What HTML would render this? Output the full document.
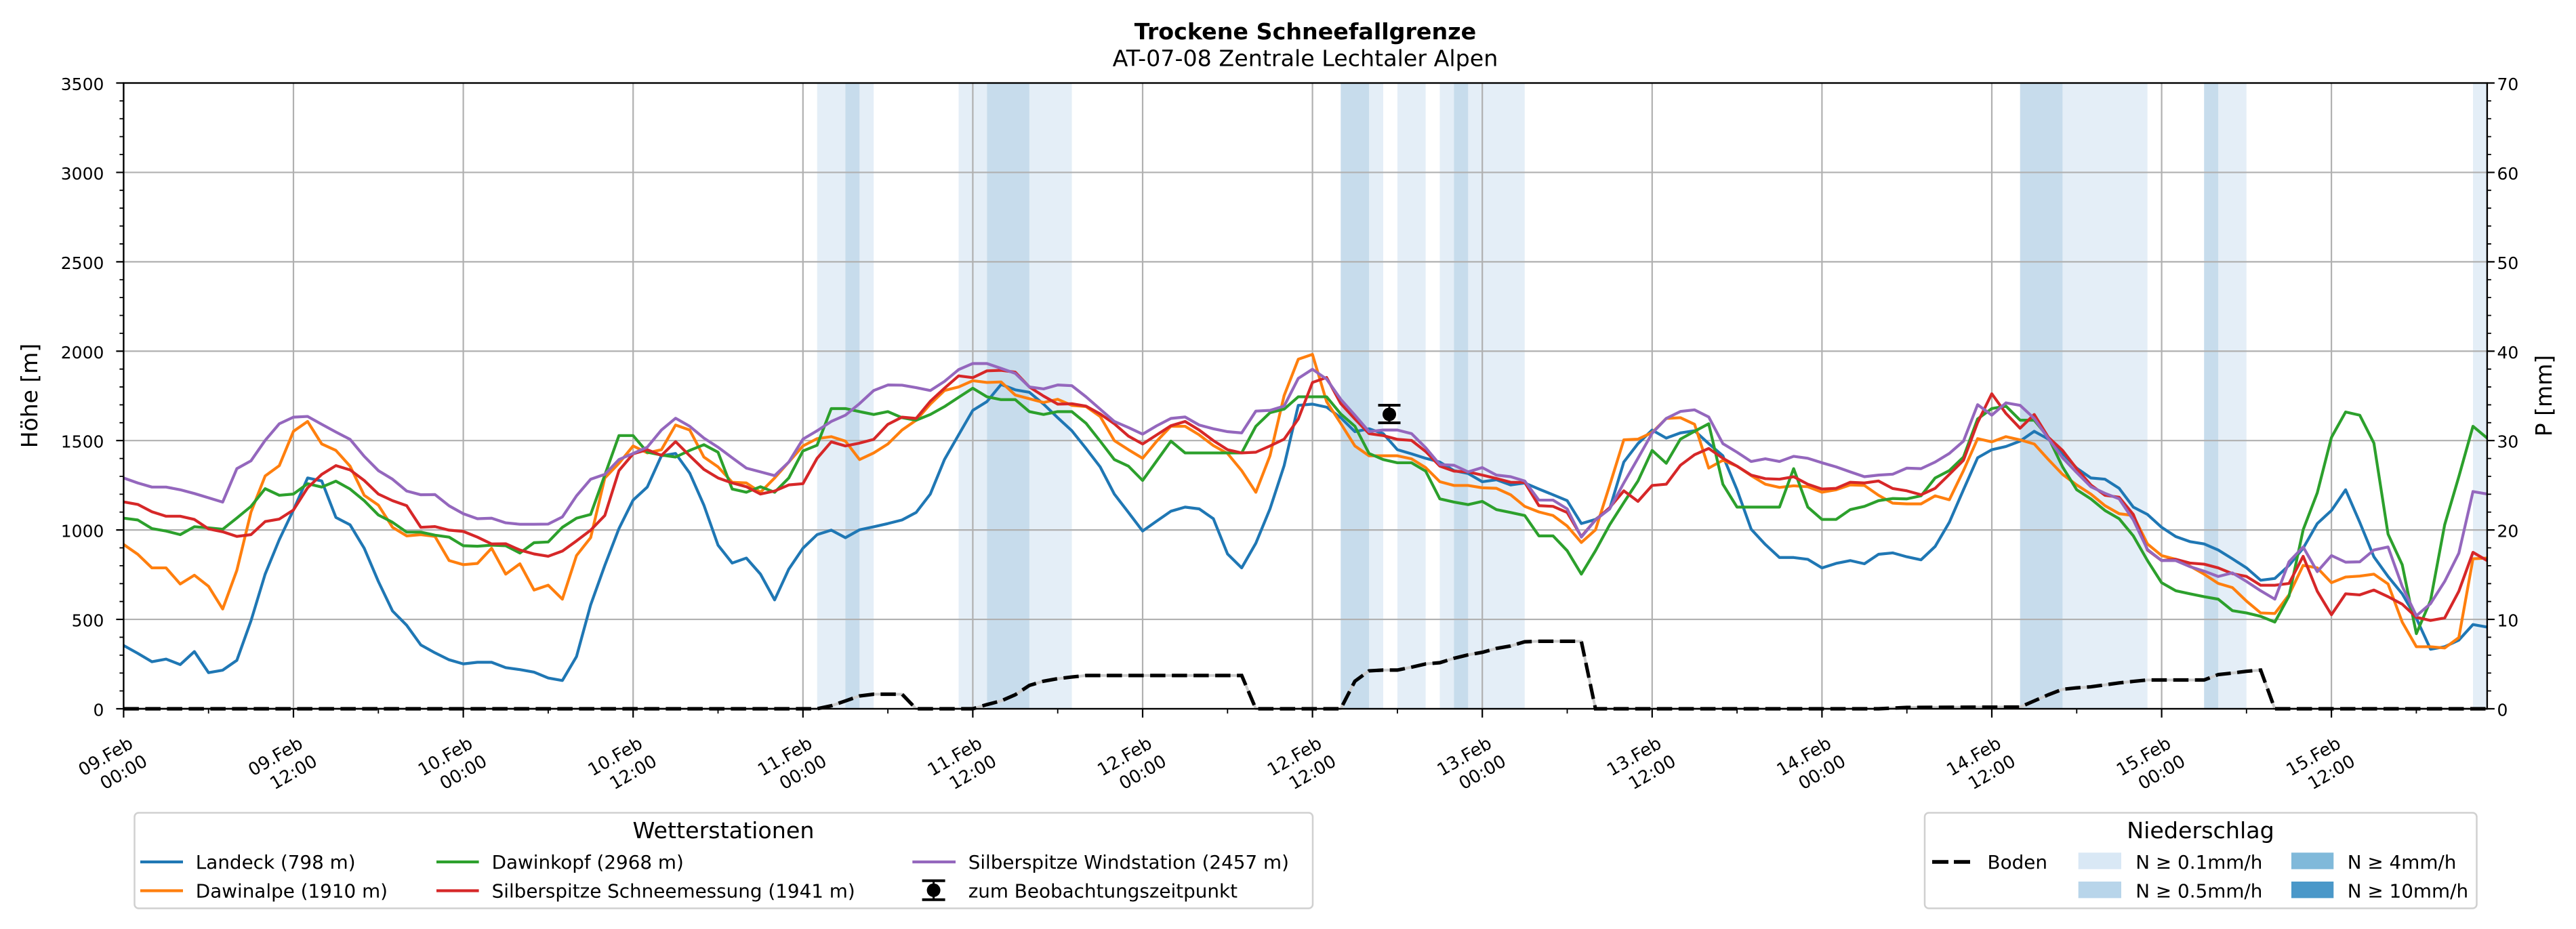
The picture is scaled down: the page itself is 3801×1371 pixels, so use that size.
<!DOCTYPE html>
<html><head><meta charset="utf-8"><style>
html,body{margin:0;padding:0;background:#fff;}
svg{display:block;}
text{font-family:"DejaVu Sans","Liberation Sans",sans-serif;fill:#000;}
</style></head><body>
<svg xmlns="http://www.w3.org/2000/svg" width="3801" height="1371" viewBox="0 0 3801 1371">
<rect x="0" y="0" width="3801" height="1371" fill="#fff"/>
<!-- titles -->
<text x="1926" y="58" text-anchor="middle" font-size="33.3" font-weight="bold">Trockene Schneefallgrenze</text>
<text x="1926" y="97.5" text-anchor="middle" font-size="33.3">AT-07-08 Zentrale Lechtaler Alpen</text>

<!-- precipitation spans -->
<g fill="#e4eef7">
<rect x="1205.7" y="122.5" width="41.7" height="923.5"/>
<rect x="1268.3" y="122.5" width="20.9" height="923.5"/>
<rect x="1414.5" y="122.5" width="41.8" height="923.5"/>
<rect x="1518.9" y="122.5" width="62.7" height="923.5"/>
<rect x="2020.1" y="122.5" width="20.9" height="923.5"/>
<rect x="2061.9" y="122.5" width="41.7" height="923.5"/>
<rect x="2124.5" y="122.5" width="20.9" height="923.5"/>
<rect x="2166.3" y="122.5" width="83.5" height="923.5"/>
<rect x="3043.4" y="122.5" width="125.3" height="923.5"/>
<rect x="3273.1" y="122.5" width="41.7" height="923.5"/>
<rect x="3649.0" y="122.5" width="20.9" height="923.5"/>
</g>
<g fill="#c7dcec">
<rect x="1247.4" y="122.5" width="20.9" height="923.5"/>
<rect x="1456.3" y="122.5" width="62.6" height="923.5"/>
<rect x="1978.3" y="122.5" width="41.8" height="923.5"/>
<rect x="2145.4" y="122.5" width="20.9" height="923.5"/>
<rect x="2980.7" y="122.5" width="62.7" height="923.5"/>
<rect x="3252.2" y="122.5" width="20.9" height="923.5"/>
</g>

<!-- grid -->
<g stroke="#b0b0b0" stroke-width="2.2" fill="none">
<path d="M433.0 122.5V1046M683.6 122.5V1046M934.2 122.5V1046M1184.8 122.5V1046M1435.4 122.5V1046M1686.0 122.5V1046M1936.6 122.5V1046M2187.2 122.5V1046M2437.8 122.5V1046M2688.4 122.5V1046M2939.0 122.5V1046M3189.6 122.5V1046M3440.1 122.5V1046"/>
<path d="M182.4 914.07H3669.9M182.4 782.14H3669.9M182.4 650.21H3669.9M182.4 518.28H3669.9M182.4 386.35H3669.9M182.4 254.42H3669.9"/>
</g>

<!-- series -->
<g transform="translate(182.4 1046) scale(20.883 -0.26386)" fill="none" stroke-width="4.2" stroke-linejoin="round" stroke-linecap="butt">
<polyline vector-effect="non-scaling-stroke" stroke="#1f77b4" points="0,354 1,310 2,263 3,278 4,247 5,320 6,202 7,216 8,271 9,492 10,753 11,946 12,1112 13,1291 14,1274 15,1070 16,1029 17,898 18,712 19,547 20,467 21,357 22,313 23,274 24,251 25,260 26,260 27,230 28,219 29,205 30,172 31,158 32,292 33,581 34,802 35,1008 36,1167 37,1240 38,1415 39,1428 40,1318 41,1139 42,915 43,815 44,843 45,753 46,609 47,781 48,898 49,974 50,999 51,957 52,1001 53,1018 54,1036 55,1056 56,1098 57,1201 58,1394 59,1532 60,1669 61,1718 62,1814 63,1784 64,1770 65,1704 66,1628 67,1555 68,1456 69,1353 70,1201 71,1098 72,994 73,1050 74,1105 75,1128 76,1118 77,1063 78,866 79,788 80,926 81,1118 82,1360 83,1697 84,1704 85,1687 86,1628 87,1550 88,1566 89,1539 90,1449 91,1426 92,1401 93,1380 94,1332 95,1316 96,1270 97,1281 98,1252 99,1263 100,1229 101,1197 102,1164 103,1036 104,1059 105,1118 106,1380 107,1483 108,1559 109,1514 110,1543 111,1555 112,1483 113,1415 114,1225 115,1004 116,919 117,846 118,846 119,836 120,788 121,813 122,829 123,811 124,864 125,872 126,850 127,833 128,908 129,1043 130,1225 131,1404 132,1449 133,1467 134,1497 135,1552 136,1508 137,1428 138,1346 139,1291 140,1284 141,1233 142,1128 143,1087 144,1015 145,963 146,935 147,922 148,888 149,839 150,788 151,719 152,729 153,802 154,898 155,1036 156,1109 157,1225 158,1043 159,850 160,740 161,643 162,506 163,333 164,347 165,384 166,471 167,457"/>
<polyline vector-effect="non-scaling-stroke" stroke="#ff7f0e" points="0,919 1,864 2,788 3,788 4,698 5,747 6,685 7,558 8,774 9,1100 10,1302 11,1360 12,1552 13,1607 14,1481 15,1445 16,1357 17,1194 18,1139 19,1015 20,967 21,974 22,964 23,829 24,806 25,813 26,898 27,753 28,811 29,664 30,691 31,613 32,857 33,957 34,1291 35,1373 36,1470 37,1431 38,1449 39,1587 40,1559 41,1408 42,1353 43,1267 44,1263 45,1211 46,1291 47,1380 48,1470 49,1511 50,1522 51,1497 52,1394 53,1431 54,1481 55,1559 56,1614 57,1704 58,1780 59,1800 60,1835 61,1825 62,1828 63,1755 64,1734 65,1713 66,1731 67,1697 68,1690 69,1635 70,1500 71,1449 72,1401 73,1497 74,1580 75,1580 76,1532 77,1472 78,1428 79,1332 80,1211 81,1415 82,1752 83,1955 84,1982 85,1718 86,1596 87,1470 88,1415 89,1415 90,1415 91,1398 92,1349 93,1270 94,1249 95,1249 96,1236 97,1233 98,1197 99,1132 100,1101 101,1081 102,1022 103,930 104,1001 105,1249 106,1504 107,1508 108,1545 109,1624 110,1628 111,1591 112,1346 113,1390 114,1357 115,1304 116,1256 117,1238 118,1247 119,1242 120,1211 121,1225 122,1252 123,1249 124,1194 125,1150 126,1146 127,1146 128,1191 129,1169 130,1332 131,1511 132,1493 133,1522 134,1504 135,1481 136,1394 137,1311 138,1252 139,1201 140,1136 141,1091 142,1081 143,922 144,857 145,836 146,798 147,753 148,701 149,678 150,602 151,536 152,533 153,637 154,802 155,788 156,705 157,737 158,742 159,753 160,698 161,485 162,347 163,347 164,340 165,398 166,839 167,843"/>
<polyline vector-effect="non-scaling-stroke" stroke="#2ca02c" points="0,1066 1,1056 2,1008 3,994 4,974 5,1018 6,1012 7,1004 8,1067 9,1132 10,1231 11,1194 12,1201 13,1259 14,1240 15,1273 16,1229 17,1164 18,1084 19,1043 20,988 21,988 22,971 23,960 24,912 25,909 26,915 27,912 28,871 29,929 30,933 31,1015 32,1066 33,1087 34,1307 35,1528 36,1528 37,1435 38,1419 39,1408 40,1445 41,1477 42,1435 43,1229 44,1211 45,1242 46,1211 47,1291 48,1442 49,1474 50,1679 51,1679 52,1662 53,1646 54,1662 55,1628 56,1614 57,1646 58,1690 59,1742 60,1793 61,1745 62,1729 63,1729 64,1662 65,1646 66,1662 67,1662 68,1597 69,1497 70,1394 71,1357 72,1277 73,1387 74,1497 75,1431 76,1431 77,1431 78,1431 79,1431 80,1580 81,1656 82,1676 83,1745 84,1745 85,1745 86,1649 87,1580 88,1428 89,1394 90,1376 91,1376 92,1329 93,1174 94,1156 95,1142 96,1160 97,1114 98,1098 99,1081 100,967 101,967 102,884 103,753 104,884 105,1029 106,1153 107,1274 108,1445 109,1373 110,1508 111,1552 112,1594 113,1256 114,1128 115,1128 116,1128 117,1128 118,1343 119,1128 120,1059 121,1059 122,1114 123,1132 124,1164 125,1176 126,1174 127,1191 128,1291 129,1332 130,1408 131,1621 132,1679 133,1693 134,1614 135,1614 136,1518 137,1353 138,1225 139,1174 140,1109 141,1063 142,967 143,829 144,705 145,660 146,643 147,627 148,613 149,549 150,536 151,517 152,485 153,630 154,1001 155,1208 156,1518 157,1660 158,1642 159,1486 160,977 161,806 162,420 163,605 164,1029 165,1298 166,1580 167,1514"/>
<polyline vector-effect="non-scaling-stroke" stroke="#d62728" points="0,1157 1,1143 2,1102 3,1077 4,1077 5,1059 6,1006 7,990 8,964 9,974 10,1047 11,1061 12,1112 13,1236 14,1311 15,1360 16,1336 17,1277 18,1201 19,1164 20,1136 21,1015 22,1019 23,999 24,992 25,960 26,922 27,923 28,888 29,866 30,853 31,882 32,939 33,999 34,1081 35,1332 36,1426 37,1449 38,1417 39,1494 40,1415 41,1339 42,1291 43,1263 44,1242 45,1201 46,1218 47,1252 48,1259 49,1401 50,1493 51,1470 52,1486 53,1507 54,1591 55,1631 56,1624 57,1720 58,1793 59,1862 60,1852 61,1890 62,1893 63,1883 64,1800 65,1749 66,1704 67,1706 68,1693 69,1649 70,1594 71,1525 72,1481 73,1532 74,1583 75,1607 76,1559 77,1500 78,1449 79,1431 80,1435 81,1470 82,1508 83,1621 84,1825 85,1853 86,1707 87,1621 88,1539 89,1528 90,1507 91,1501 92,1439 93,1357 94,1329 95,1325 96,1307 97,1288 98,1267 99,1266 100,1136 101,1132 102,1098 103,963 104,1056 105,1125 106,1219 107,1160 108,1249 109,1256 110,1362 111,1421 112,1456 113,1401 114,1357 115,1307 116,1287 117,1284 118,1298 119,1256 120,1229 121,1233 122,1267 123,1263 124,1274 125,1232 126,1219 127,1197 128,1233 129,1311 130,1390 131,1601 132,1762 133,1652 134,1569 135,1646 136,1518 137,1445 138,1343 139,1252 140,1194 141,1183 142,1087 143,888 144,829 145,836 146,815 147,809 148,788 149,756 150,740 151,691 152,691 153,701 154,853 155,657 156,526 157,643 158,637 159,664 160,627 161,585 162,512 163,494 164,508 165,657 166,875 167,829"/>
<polyline vector-effect="non-scaling-stroke" stroke="#9467bd" points="0,1291 1,1263 2,1240 3,1240 4,1225 5,1204 6,1180 7,1156 8,1343 9,1387 10,1501 11,1594 12,1631 13,1635 14,1591 15,1548 16,1507 17,1412 18,1332 19,1284 20,1218 21,1197 22,1198 23,1135 24,1091 25,1063 26,1066 27,1040 28,1032 29,1032 30,1033 31,1073 32,1191 33,1284 34,1311 35,1394 36,1428 37,1463 38,1559 39,1625 40,1580 41,1514 42,1463 43,1404 44,1346 45,1325 46,1304 47,1380 48,1508 49,1555 50,1607 51,1642 52,1707 53,1780 54,1811 55,1810 56,1796 57,1780 58,1831 59,1897 60,1931 61,1931 62,1904 63,1876 64,1800 65,1789 66,1811 67,1807 68,1745 69,1676 70,1607 71,1573 72,1536 73,1583 74,1624 75,1632 76,1587 77,1566 78,1550 79,1543 80,1665 81,1669 82,1693 83,1848 84,1899 85,1844 86,1731 87,1642 88,1550 89,1559 90,1559 91,1539 92,1460 93,1366 94,1362 95,1325 96,1349 97,1307 98,1298 99,1274 100,1167 101,1167 102,1118 103,960 104,1056 105,1118 106,1263 107,1401 108,1541 109,1624 110,1663 111,1672 112,1632 113,1483 114,1435 115,1383 116,1398 117,1383 118,1412 119,1401 120,1376 121,1353 122,1325 123,1298 124,1307 125,1312 126,1346 127,1343 128,1380 129,1428 130,1497 131,1701 132,1642 133,1711 134,1697 135,1624 136,1511 137,1404 138,1321 139,1242 140,1205 141,1174 142,1056 143,891 144,829 145,829 146,795 147,770 148,740 149,760 150,712 151,660 152,613 153,822 154,905 155,767 156,857 157,820 158,822 159,888 160,905 161,685 162,520 163,588 164,712 165,870 166,1215 167,1201"/>
</g>

<!-- observation marker -->
<g stroke="#000" fill="#000">
<line x1="2050" y1="598" x2="2050" y2="625" stroke-width="3"/>
<line x1="2033.5" y1="598" x2="2066.5" y2="598" stroke-width="4"/>
<line x1="2033.5" y1="624" x2="2066.5" y2="624" stroke-width="4"/>
<circle cx="2050" cy="611.5" r="10" stroke="none"/>
</g>

<!-- Boden -->
<polyline fill="none" stroke="#cccccc" stroke-width="4" stroke-linejoin="round" points="182.4,1046 1205.7,1046 1226.6,1041.6 1247.4,1034.4 1268.3,1027.1 1289.2,1024.5 1331.0,1024.5 1351.8,1046 1435.4,1046 1456.3,1039.8 1477.1,1034.4 1498.0,1025.3 1518.9,1011.5 1539.8,1005.3 1560.7,1001.6 1581.6,999.1 1602.4,996.9 1832.2,996.9 1853.0,1046 1978.3,1046 1999.2,1005.3 2020.1,990 2041.0,988.9 2061.9,988.9 2082.8,984.6 2103.6,979.8 2124.5,978 2145.4,971.5 2166.3,966.4 2187.2,962.7 2208.1,956.9 2228.9,953.3 2249.8,947.1 2270.7,946.4 2333.3,946.4 2354.2,1046 2771.9,1046 2813.7,1044 2959.8,1043.5 2980.7,1043.5 3001.6,1034.4 3022.5,1025.3 3043.4,1017.3 3064.3,1015.1 3085.1,1013.6 3106.0,1010.7 3126.9,1007.8 3147.8,1005.6 3168.7,1003.5 3252.2,1003.5 3273.1,995.5 3294.0,993.3 3314.8,990.7 3335.7,988.9 3356.6,1046 3669.9,1046"/>
<polyline fill="none" stroke="#000" stroke-width="5.2" stroke-dasharray="22.5 9.5" points="182.4,1046 1205.7,1046 1226.6,1041.6 1247.4,1034.4 1268.3,1027.1 1289.2,1024.5 1331.0,1024.5 1351.8,1046 1435.4,1046 1456.3,1039.8 1477.1,1034.4 1498.0,1025.3 1518.9,1011.5 1539.8,1005.3 1560.7,1001.6 1581.6,999.1 1602.4,996.9 1832.2,996.9 1853.0,1046 1978.3,1046 1999.2,1005.3 2020.1,990 2041.0,988.9 2061.9,988.9 2082.8,984.6 2103.6,979.8 2124.5,978 2145.4,971.5 2166.3,966.4 2187.2,962.7 2208.1,956.9 2228.9,953.3 2249.8,947.1 2270.7,946.4 2333.3,946.4 2354.2,1046 2771.9,1046 2813.7,1044 2959.8,1043.5 2980.7,1043.5 3001.6,1034.4 3022.5,1025.3 3043.4,1017.3 3064.3,1015.1 3085.1,1013.6 3106.0,1010.7 3126.9,1007.8 3147.8,1005.6 3168.7,1003.5 3252.2,1003.5 3273.1,995.5 3294.0,993.3 3314.8,990.7 3335.7,988.9 3356.6,1046 3669.9,1046"/>

<!-- spines -->
<rect x="182.4" y="122.5" width="3487.5" height="923.5" fill="none" stroke="#000" stroke-width="2.4"/>

<!-- ticks -->
<g stroke="#000" fill="none">
<path stroke-width="2.2" d="M182.4 1046h-11M182.4 914.07h-11M182.4 782.14h-11M182.4 650.21h-11M182.4 518.28h-11M182.4 386.35h-11M182.4 254.42h-11M182.4 122.49h-11
M3669.9 1046h11M3669.9 914.07h11M3669.9 782.14h11M3669.9 650.21h11M3669.9 518.28h11M3669.9 386.35h11M3669.9 254.42h11M3669.9 122.49h11
M182.4 1046v13M433.0 1046v13M683.6 1046v13M934.2 1046v13M1184.8 1046v13M1435.4 1046v13M1686.0 1046v13M1936.6 1046v13M2187.2 1046v13M2437.8 1046v13M2688.4 1046v13M2939.0 1046v13M3189.6 1046v13M3440.1 1046v13"/>
<path stroke-width="1.8" d="M182.4 1019.61h-6M182.4 993.23h-6M182.4 966.84h-6M182.4 940.46h-6M182.4 887.68h-6M182.4 861.30h-6M182.4 834.91h-6M182.4 808.53h-6M182.4 755.75h-6M182.4 729.37h-6M182.4 702.98h-6M182.4 676.60h-6M182.4 623.82h-6M182.4 597.44h-6M182.4 571.05h-6M182.4 544.67h-6M182.4 491.89h-6M182.4 465.51h-6M182.4 439.12h-6M182.4 412.74h-6M182.4 359.96h-6M182.4 333.58h-6M182.4 307.19h-6M182.4 280.81h-6M182.4 228.03h-6M182.4 201.65h-6M182.4 175.26h-6M182.4 148.88h-6
M3669.9 1019.61h6M3669.9 993.23h6M3669.9 966.84h6M3669.9 940.46h6M3669.9 887.68h6M3669.9 861.30h6M3669.9 834.91h6M3669.9 808.53h6M3669.9 755.75h6M3669.9 729.37h6M3669.9 702.98h6M3669.9 676.60h6M3669.9 623.82h6M3669.9 597.44h6M3669.9 571.05h6M3669.9 544.67h6M3669.9 491.89h6M3669.9 465.51h6M3669.9 439.12h6M3669.9 412.74h6M3669.9 359.96h6M3669.9 333.58h6M3669.9 307.19h6M3669.9 280.81h6M3669.9 228.03h6M3669.9 201.65h6M3669.9 175.26h6M3669.9 148.88h6
M307.7 1046v7M558.3 1046v7M808.9 1046v7M1059.5 1046v7M1310.1 1046v7M1560.7 1046v7M1811.3 1046v7M2061.9 1046v7M2312.5 1046v7M2563.1 1046v7M2813.7 1046v7M3064.3 1046v7M3314.8 1046v7M3565.4 1046v7"/>
</g>

<!-- y tick labels left -->
<g font-size="25" text-anchor="end">
<text x="153.4" y="1056.5">0</text>
<text x="153.4" y="924.6">500</text>
<text x="153.4" y="792.6">1000</text>
<text x="153.4" y="660.7">1500</text>
<text x="153.4" y="528.8">2000</text>
<text x="153.4" y="396.9">2500</text>
<text x="153.4" y="264.9">3000</text>
<text x="153.4" y="133">3500</text>
</g>
<!-- y tick labels right -->
<g font-size="25" text-anchor="start">
<text x="3684.5" y="1056.5">0</text>
<text x="3684.5" y="924.6">10</text>
<text x="3684.5" y="792.6">20</text>
<text x="3684.5" y="660.7">30</text>
<text x="3684.5" y="528.8">40</text>
<text x="3684.5" y="396.9">50</text>
<text x="3684.5" y="264.9">60</text>
<text x="3684.5" y="133">70</text>
</g>

<!-- axis labels -->
<text transform="translate(55 584) rotate(-90)" text-anchor="middle" font-size="33">Höhe [m]</text>
<text transform="translate(3765 584) rotate(-90)" text-anchor="middle" font-size="33">P [mm]</text>

<!-- x tick labels -->
<g font-size="26">
<text transform="translate(122.4 1146) rotate(-30)">09.Feb</text><text transform="translate(154.4 1166) rotate(-30)">00:00</text>
<text transform="translate(373.0 1146) rotate(-30)">09.Feb</text><text transform="translate(405.0 1166) rotate(-30)">12:00</text>
<text transform="translate(623.6 1146) rotate(-30)">10.Feb</text><text transform="translate(655.6 1166) rotate(-30)">00:00</text>
<text transform="translate(874.2 1146) rotate(-30)">10.Feb</text><text transform="translate(906.2 1166) rotate(-30)">12:00</text>
<text transform="translate(1124.8 1146) rotate(-30)">11.Feb</text><text transform="translate(1156.8 1166) rotate(-30)">00:00</text>
<text transform="translate(1375.4 1146) rotate(-30)">11.Feb</text><text transform="translate(1407.4 1166) rotate(-30)">12:00</text>
<text transform="translate(1626.0 1146) rotate(-30)">12.Feb</text><text transform="translate(1658.0 1166) rotate(-30)">00:00</text>
<text transform="translate(1876.6 1146) rotate(-30)">12.Feb</text><text transform="translate(1908.6 1166) rotate(-30)">12:00</text>
<text transform="translate(2127.2 1146) rotate(-30)">13.Feb</text><text transform="translate(2159.2 1166) rotate(-30)">00:00</text>
<text transform="translate(2377.8 1146) rotate(-30)">13.Feb</text><text transform="translate(2409.8 1166) rotate(-30)">12:00</text>
<text transform="translate(2628.4 1146) rotate(-30)">14.Feb</text><text transform="translate(2660.4 1166) rotate(-30)">00:00</text>
<text transform="translate(2879.0 1146) rotate(-30)">14.Feb</text><text transform="translate(2911.0 1166) rotate(-30)">12:00</text>
<text transform="translate(3129.6 1146) rotate(-30)">15.Feb</text><text transform="translate(3161.6 1166) rotate(-30)">00:00</text>
<text transform="translate(3380.1 1146) rotate(-30)">15.Feb</text><text transform="translate(3412.1 1166) rotate(-30)">12:00</text>
</g>

<!-- Legend 1 -->
<rect x="198.5" y="1199.5" width="1738.5" height="141" rx="6" ry="6" fill="#fff" stroke="#d0d0d0" stroke-width="2.5"/>
<text x="1067.5" y="1237" text-anchor="middle" font-size="33.3">Wetterstationen</text>
<g stroke-width="4.2" fill="none">
<line x1="207" y1="1272" x2="270" y2="1272" stroke="#1f77b4"/>
<line x1="207" y1="1314.5" x2="270" y2="1314.5" stroke="#ff7f0e"/>
<line x1="644" y1="1272" x2="706.6" y2="1272" stroke="#2ca02c"/>
<line x1="644" y1="1314.5" x2="706.6" y2="1314.5" stroke="#d62728"/>
<line x1="1346.3" y1="1272" x2="1410" y2="1272" stroke="#9467bd"/>
</g>
<g stroke="#000" fill="#000">
<line x1="1377.6" y1="1299.5" x2="1377.6" y2="1328" stroke-width="3"/>
<line x1="1360.6" y1="1299.7" x2="1394.6" y2="1299.7" stroke-width="4"/>
<line x1="1360.6" y1="1327.8" x2="1394.6" y2="1327.8" stroke-width="4"/>
<circle cx="1377.6" cy="1313.8" r="10" stroke="none"/>
</g>
<g font-size="27.8">
<text x="288.8" y="1282">Landeck (798 m)</text>
<text x="288.8" y="1324.3">Dawinalpe (1910 m)</text>
<text x="725.6" y="1282">Dawinkopf (2968 m)</text>
<text x="725.6" y="1324.3">Silberspitze Schneemessung (1941 m)</text>
<text x="1428.7" y="1282">Silberspitze Windstation (2457 m)</text>
<text x="1428.7" y="1324.3">zum Beobachtungszeitpunkt</text>
</g>

<!-- Legend 2 -->
<rect x="2840" y="1199.5" width="814.5" height="141" rx="6" ry="6" fill="#fff" stroke="#d0d0d0" stroke-width="2.5"/>
<text x="3247" y="1237" text-anchor="middle" font-size="33.3">Niederschlag</text>
<line x1="2851" y1="1272" x2="2907" y2="1272" stroke="#000" stroke-width="5.6" stroke-dasharray="24 8"/>
<rect x="3066.7" y="1258.3" width="63.3" height="24.4" fill="#d9e8f5"/>
<rect x="3066.7" y="1301" width="63.3" height="24.4" fill="#b8d5ea"/>
<rect x="3381" y="1258.3" width="62.3" height="24.4" fill="#80b9da"/>
<rect x="3381" y="1301" width="62.3" height="24.4" fill="#4a98c9"/>
<g font-size="27.8">
<text x="2932.5" y="1282">Boden</text>
<text x="3151.3" y="1282">N ≥ 0.1mm/h</text>
<text x="3151.3" y="1324.3">N ≥ 0.5mm/h</text>
<text x="3463.8" y="1282">N ≥ 4mm/h</text>
<text x="3463.8" y="1324.3">N ≥ 10mm/h</text>
</g>
</svg>
</body></html>
